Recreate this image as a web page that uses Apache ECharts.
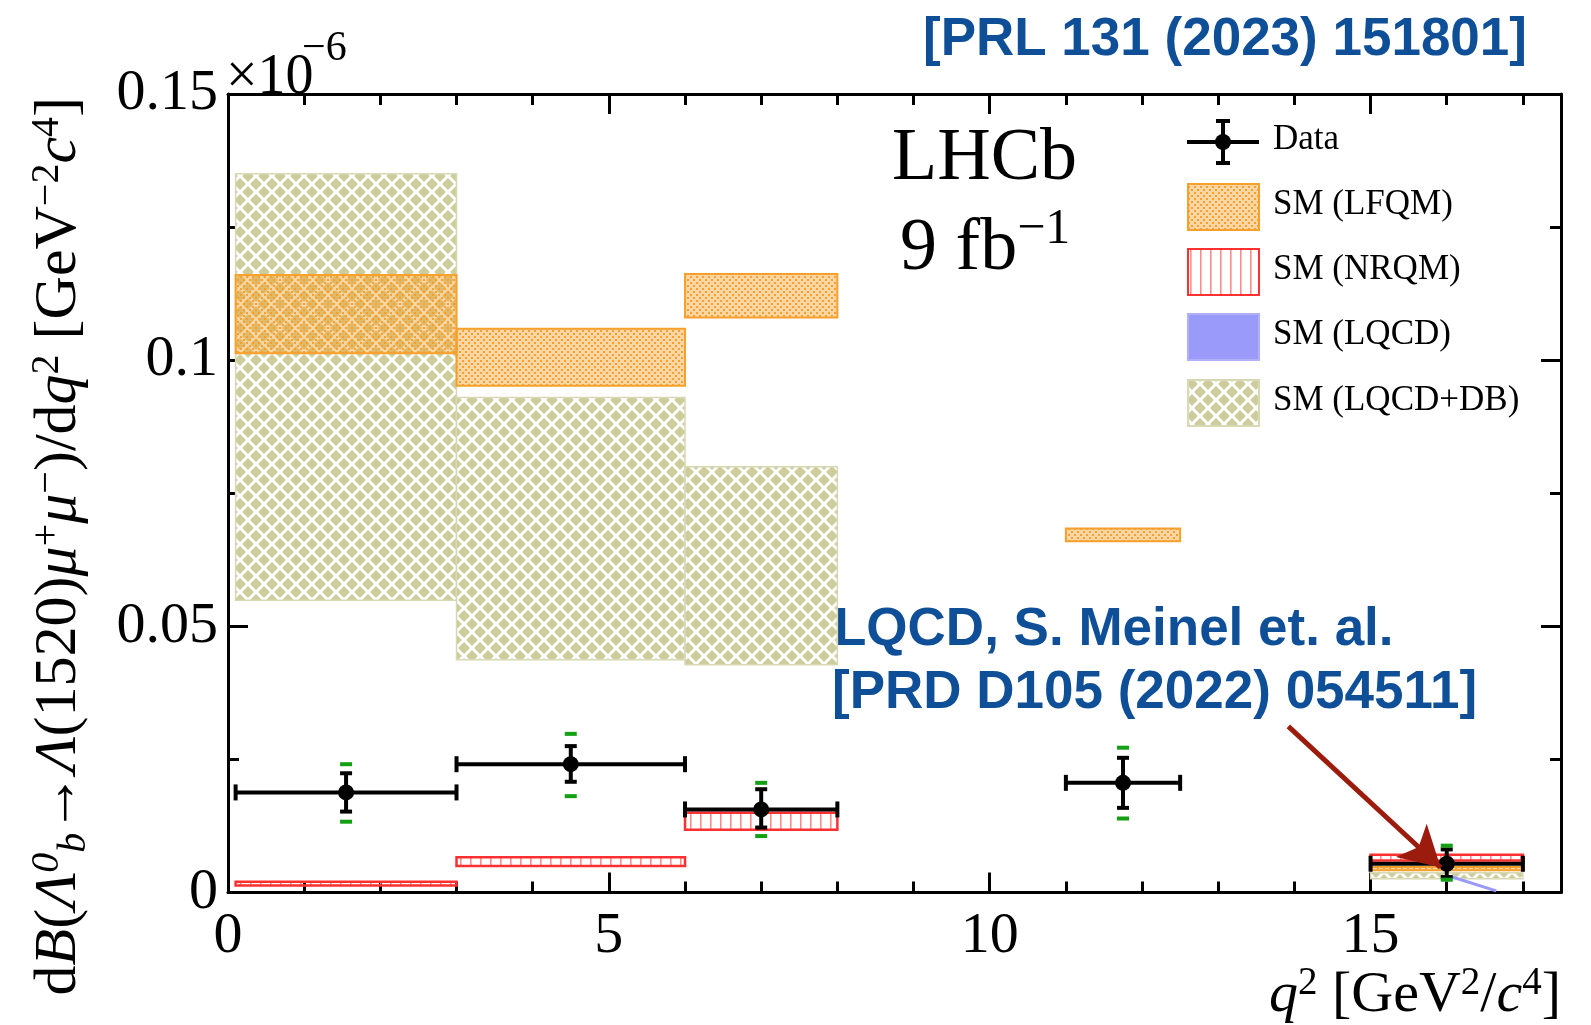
<!DOCTYPE html>
<html>
<head>
<meta charset="utf-8">
<title>Lb -> L(1520) mu mu, dB/dq2</title>
<script src="https://cdn.jsdelivr.net/npm/echarts@6/dist/echarts.min.js"></script>
<style>
  html, body { margin: 0; padding: 0; background: #fff; }
  #chart { width: 1591px; height: 1025px; }
</style>
</head>
<body>
<div id="chart"></div>
<script>
// q2 bins [GeV^2/c^4]
const binLo = [0.1, 3, 6, 11, 15];
const binHi = [3, 6, 8, 12.5, 17];

// LHCb data (x 1e-6)
const dataX = [1.55, 4.5, 7.0, 11.75, 16.0];
const dataY = [0.0188, 0.0241, 0.0156, 0.0206, 0.0054];
const statLo = [0.0152, 0.0208, 0.0122, 0.0159, 0.0029];
const statHi = [0.0224, 0.0275, 0.0194, 0.0253, 0.0081];
const totLo = [0.0133, 0.0181, 0.0106, 0.0139, 0.0024];
const totHi = [0.0241, 0.0298, 0.0206, 0.0272, 0.0088];

// SM predictions per bin (null = none)
const lfqmLo = [0.1013, 0.0952, 0.1080, 0.0660, 0.0042];
const lfqmHi = [0.1160, 0.1059, 0.1162, 0.0684, 0.0048];
const nrqmLo = [0.0013, 0.0050, 0.0118, null, 0.0060];
const nrqmHi = [0.0020, 0.0066, 0.0150, null, 0.0071];
const dbLo = [0.0549, 0.0437, 0.0428, null, 0.0026];
const dbHi = [0.1350, 0.0930, 0.0800, null, 0.0037];
// LQCD curve, only its tail is visible
const lqcdX = [16.05, 16.65];
const lqcdY = [0.0030, 0.0003];

// arrow of the LQCD note, data coords
const arrowFrom = [13.92, 0.0312];
const arrowTo = [15.92, 0.0047];

const SERIF = '"Liberation Serif", "DejaVu Serif", serif';
const SANS = '"Liberation Sans", "DejaVu Sans", sans-serif';
const BLUE = '#0f4f97';

// fill patterns
function tile(w, h, draw) {
  const c = document.createElement('canvas');
  c.width = w; c.height = h;
  draw(c.getContext('2d'));
  return { image: c, repeat: 'repeat' };
}
const crossFill = tile(16, 16, (g) => {
  g.fillStyle = '#cdcd9c';
  g.fillRect(0, 0, 16, 16);
  g.strokeStyle = '#ffffff';
  g.lineWidth = 3;
  g.beginPath();
  [-16, 0, 16].forEach((o) => {
    g.moveTo(o - 2, -2); g.lineTo(o + 18, 18);
    g.moveTo(o - 2, 18); g.lineTo(o + 18, -2);
  });
  g.stroke();
});
const dotFill = tile(6, 6, (g) => {
  g.fillStyle = 'rgba(247,160,40,0.42)';
  g.fillRect(0, 0, 6, 6);
  g.fillStyle = '#f7a02c';
  g.fillRect(0, 0, 2, 2);
  g.fillRect(3, 3, 2, 2);
});
const stripeFill = tile(10, 4, (g) => {
  g.fillStyle = '#ff8c8c';
  g.fillRect(0, 0, 1.6, 4);
});

function bandData(lo, hi) {
  const out = [];
  binLo.forEach((b, i) => {
    if (lo[i] != null) out.push([binLo[i], binHi[i], lo[i], hi[i]]);
  });
  return out;
}

function bandSeries(name, lo, hi, fill, stroke, lw) {
  return {
    name: name,
    type: 'custom',
    silent: true,
    encode: { x: [0, 1], y: [2, 3] },
    data: bandData(lo, hi),
    renderItem(params, api) {
      const a = api.coord([api.value(0), api.value(3)]);
      const b = api.coord([api.value(1), api.value(2)]);
      return {
        type: 'rect',
        shape: { x: a[0], y: a[1], width: b[0] - a[0], height: b[1] - a[1] },
        style: { fill: fill, stroke: stroke, lineWidth: lw },
      };
    },
  };
}

function seg(x1, y1, x2, y2, st) {
  return { type: 'line', shape: { x1, y1, x2, y2 }, style: st };
}

const blk = { stroke: '#000', lineWidth: 4 };
const grn = { stroke: '#14a014', lineWidth: 4 };

function renderPoint(params, api) {
  const x = api.value(0);
  const y = api.value(1);
  const c = api.coord([x, y]);
  const xl = api.coord([api.value(2), y])[0];
  const xr = api.coord([api.value(3), y])[0];
  const sLo = api.coord([x, api.value(4)])[1];
  const sHi = api.coord([x, api.value(5)])[1];
  const tLo = api.coord([x, api.value(6)])[1];
  const tHi = api.coord([x, api.value(7)])[1];
  return {
    type: 'group',
    children: [
      seg(xl, c[1], xr, c[1], blk),
      seg(xl, c[1] - 8, xl, c[1] + 8, blk),
      seg(xr, c[1] - 8, xr, c[1] + 8, blk),
      seg(c[0], sHi, c[0], sLo, blk),
      seg(c[0] - 6, sHi, c[0] + 6, sHi, blk),
      seg(c[0] - 6, sLo, c[0] + 6, sLo, blk),
      seg(c[0] - 6, tHi, c[0] + 6, tHi, grn),
      seg(c[0] - 6, tLo, c[0] + 6, tLo, grn),
      { type: 'circle', shape: { cx: c[0], cy: c[1], r: 8 }, style: { fill: '#000' } },
    ],
  };
}

// rich text pieces for the axis titles
function richSet(size, sub) {
  return {
    n: { fontFamily: SERIF, fontSize: size, color: '#000' },
    i: { fontFamily: SERIF, fontSize: size, fontStyle: 'italic', color: '#000' },
    sup: { fontFamily: SERIF, fontSize: sub, color: '#000', padding: [0, 0, 24, 0] },
    supi: { fontFamily: SERIF, fontSize: sub, fontStyle: 'italic', color: '#000', padding: [0, 0, 24, 0] },
    sub: { fontFamily: SERIF, fontSize: sub, fontStyle: 'italic', color: '#000', padding: [30, 0, 0, 0] },
  };
}

const yTitle = '{n|d}{i|B}{n|(}{i|Λ}{supi|0}{sub|b}{n|→}{i|Λ}{n|(1520)}{i|μ}{sup|+}{i|μ}{sup|−}{n|)/d}{i|q}{sup|2}{n| [GeV}{sup|−2}{i|c}{sup|4}{n|]}';
const xTitle = '{i|q}{sup|2}{n| [GeV}{sup|2}{n|/}{i|c}{sup|4}{n|]}';

const axisLine = { show: true, onZero: false, lineStyle: { color: '#000', width: 3 } };
const noLine = { show: false, onZero: false };
function ticks(len) {
  return { show: true, inside: true, length: len, lineStyle: { color: '#000', width: 3 } };
}

function xAx(position, interval, len, withLine, extra) {
  return Object.assign({
    type: 'value', position, min: 0, max: 17.5, interval,
    axisLine: withLine ? axisLine : noLine,
    axisTick: ticks(len),
    axisLabel: { show: false },
    splitLine: { show: false },
  }, extra || {});
}
function yAx(position, interval, len, withLine, extra) {
  return Object.assign({
    type: 'value', position, min: 0, max: 0.15, interval,
    axisLine: withLine ? axisLine : noLine,
    axisTick: ticks(len),
    axisLabel: { show: false },
    splitLine: { show: false },
  }, extra || {});
}

const legendRows = ['Data', 'SM (LFQM)', 'SM (NRQM)', 'SM (LQCD)', 'SM (LQCD+DB)'];
const legendY = [142, 207, 272, 337, 403];
const legendFill = [null, dotFill, stripeFill, '#9a9afa', crossFill];
const legendStroke = [null, '#f7a02c', '#ff3030', '#b0b0fa', '#d8d8b4'];

const legendGraphics = [];
legendRows.forEach((label, i) => {
  const cy = legendY[i];
  if (i === 0) {
    legendGraphics.push(
      { type: 'line', shape: { x1: 1187, y1: cy, x2: 1259, y2: cy }, style: blk },
      { type: 'line', shape: { x1: 1223, y1: cy - 21, x2: 1223, y2: cy + 21 }, style: blk },
      { type: 'line', shape: { x1: 1216, y1: cy - 21, x2: 1230, y2: cy - 21 }, style: blk },
      { type: 'line', shape: { x1: 1216, y1: cy + 21, x2: 1230, y2: cy + 21 }, style: blk },
      { type: 'circle', shape: { cx: 1223, cy: cy, r: 8 }, style: { fill: '#000' } }
    );
  } else {
    legendGraphics.push({
      type: 'rect',
      shape: { x: 1188, y: cy - 23, width: 71, height: 46 },
      style: { fill: '#fff', stroke: legendStroke[i], lineWidth: 2 },
    }, {
      type: 'rect',
      shape: { x: 1188, y: cy - 23, width: 71, height: 46 },
      style: { fill: legendFill[i], stroke: legendStroke[i], lineWidth: 2 },
    });
  }
  legendGraphics.push({
    type: 'text', left: 1273, top: cy - 20,
    style: { text: label, font: '35px ' + SERIF, fill: '#000' },
  });
});

const chart = echarts.init(document.getElementById('chart'), null, { renderer: 'canvas' });

chart.setOption({
  animation: false,
  backgroundColor: '#fff',
  grid: { left: 228, right: 30, top: 94, bottom: 130, containLabel: false },
  xAxis: [
    xAx('bottom', 5, 20, true, {
      axisLabel: { show: true, margin: 15, fontFamily: SERIF, fontSize: 58, color: '#000', showMaxLabel: false },
      name: xTitle,
      nameLocation: 'end',
      nameGap: 0,
      nameMoveOverlap: false,
      nameTextStyle: { align: 'right', verticalAlign: 'top', padding: [72, 0, 0, 0], rich: richSet(58, 39) },
    }),
    xAx('bottom', 1, 11, false),
    xAx('top', 5, 20, true),
    xAx('top', 1, 11, false),
  ],
  yAxis: [
    yAx('left', 0.05, 20, true, {
      axisLabel: { show: true, margin: 10, fontFamily: SERIF, fontSize: 58, color: '#000' },
      name: yTitle,
      nameLocation: 'middle',
      nameRotate: 90,
      nameGap: 134,
      nameMoveOverlap: false,
      nameTextStyle: { padding: [0, 106, 0, 0], rich: richSet(60, 40) },
    }),
    yAx('left', 0.025, 11, false),
    yAx('right', 0.05, 20, true),
    yAx('right', 0.025, 11, false),
  ],
  series: [
    bandSeries('SM (LQCD+DB)', dbLo, dbHi, crossFill, '#d8d8b4', 1.5),
    bandSeries('SM (LFQM)', lfqmLo, lfqmHi, dotFill, '#f7a02c', 2),
    bandSeries('SM (NRQM)', nrqmLo, nrqmHi, stripeFill, '#ff3030', 2.5),
    {
      name: 'SM (LQCD)',
      type: 'line',
      silent: true,
      symbol: 'none',
      data: lqcdX.map((x, i) => [x, lqcdY[i]]),
      lineStyle: { color: '#9a9afa', width: 3 },
      z: 3,
    },
    {
      name: 'Data',
      type: 'custom',
      silent: true,
      encode: { x: 0, y: 1 },
      data: dataX.map((x, i) => [x, dataY[i], binLo[i], binHi[i], statLo[i], statHi[i], totLo[i], totHi[i]]),
      renderItem: renderPoint,
      z: 4,
    },
    {
      name: 'note arrow',
      type: 'line',
      silent: true,
      data: [],
      z: 5,
      markLine: {
        silent: true,
        symbol: ['none', 'arrow'],
        symbolSize: [34, 40],
        label: { show: false },
        lineStyle: { color: '#9b1c0c', width: 5, type: 'solid', opacity: 1 },
        data: [[{ coord: arrowFrom }, { coord: arrowTo }]],
      },
    },
  ],
  graphic: [
    { type: 'text', left: 226, top: 50, style: { text: '×10', font: '56px ' + SERIF, fill: '#000' } },
    { type: 'text', left: 302, top: 28, style: { text: '−6', font: '42px ' + SERIF, fill: '#000' } },
    {
      type: 'text', left: 923, top: 14,
      style: { text: '[PRL 131 (2023) 151801]', font: 'bold 53px ' + SANS, fill: BLUE },
    },
    {
      type: 'text', left: 892, top: 123,
      style: { text: 'LHCb', font: '74px ' + SERIF, fill: '#000' },
    },
    {
      type: 'text', left: 900, top: 205,
      style: {
        text: '{n|9 fb}{s|−1}',
        rich: {
          n: { fontFamily: SERIF, fontSize: 74, color: '#000' },
          s: { fontFamily: SERIF, fontSize: 50, color: '#000', padding: [0, 0, 40, 0] },
        },
      },
    },
    {
      type: 'text', left: 834, top: 604,
      style: { text: 'LQCD, S. Meinel et. al.', font: 'bold 53px ' + SANS, fill: BLUE },
    },
    {
      type: 'text', left: 832, top: 667,
      style: { text: '[PRD D105 (2022) 054511]', font: 'bold 53px ' + SANS, fill: BLUE },
    },
  ].concat(legendGraphics),
});
</script>
</body>
</html>
